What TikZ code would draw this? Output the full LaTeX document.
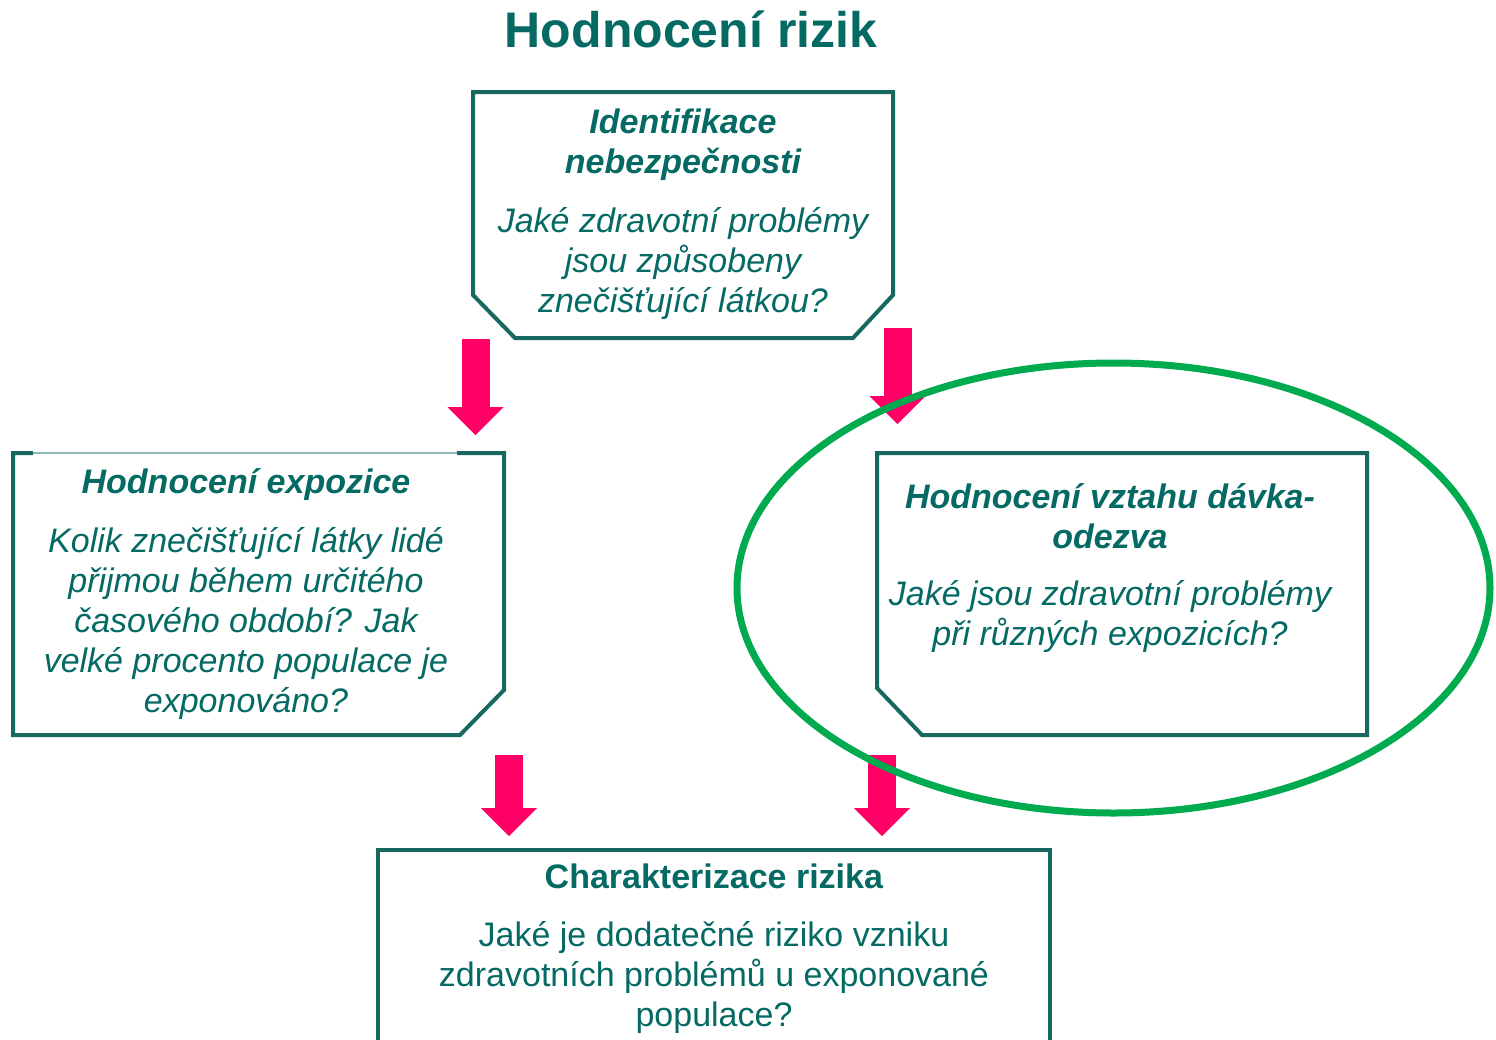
\documentclass[tikz,border=0pt]{standalone}
\usepackage{fontspec}
\setmainfont{Liberation Sans}
\usepackage{xcolor}
\usepackage{tikz}
\usetikzlibrary{arrows.meta,positioning,shapes.geometric}
\definecolor{RiskTeal}{HTML}{17695F}
\definecolor{RiskText}{HTML}{056A63}
\definecolor{RiskTealLight}{HTML}{8DB8B3}
\definecolor{RiskPink}{HTML}{FF0066}
\definecolor{RiskGreen}{HTML}{00AA4F}
\newcommand{\stagehead}[1]{\textbf{#1}}

\begin{document}
\begin{tikzpicture}[
  x=0.5pt, y=-0.5pt,
  stagebox/.style={rectangle, inner sep=0pt, outer sep=0pt},
  stageline/.style={draw=RiskTeal, line width=2pt, line join=miter},
  plainbox/.style={draw=RiskTeal, line width=2pt, rectangle, inner sep=0pt, outer sep=0pt},
  stagetext/.style={text=RiskText, align=center, anchor=north, inner sep=0pt, font=\fontsize{17}{20}\selectfont\itshape},
  bigarr/.style={draw=RiskPink, line width=14pt, -{Triangle[width=28pt, length=14pt, line width=0pt]}},
  ring/.style={draw=RiskGreen, line width=3.5pt, ellipse, inner sep=0pt}
]
  \path[fill=white, use as bounding box] (0,0) rectangle (1496,1040);

  \node[text=RiskText, font=\fontsize{25}{30}\selectfont\bfseries, anchor=base] (title) at (691,47) {Hodnocení rizik};

  % the four stages
  \node[stagebox, minimum width=210pt, minimum height=123pt] (hazard) at (683,215) {};
  \node[stagebox, minimum width=245.5pt, minimum height=141pt] (exposure) at (258.5,594) {};
  \node[stagebox, minimum width=245pt, minimum height=141pt] (doseresp) at (1122,594) {};
  \node[plainbox, minimum width=336pt, minimum height=105pt] (riskchar) at (714,955) {};

  % cut corners
  \draw[stageline] (hazard.north west) -- (hazard.north east) -- ([yshift=21.5pt]hazard.south east)
    -- ([xshift=-20pt]hazard.south east) -- ([xshift=21pt]hazard.south west)
    -- ([yshift=21.5pt]hazard.south west) -- cycle;
  \draw[stageline] (exposure.north west) -- (exposure.north east) -- ([yshift=22.5pt]exposure.south east)
    -- ([xshift=-22pt]exposure.south east) -- (exposure.south west) -- cycle;
  \draw[stageline] (doseresp.north west) -- (doseresp.north east) -- (doseresp.south east)
    -- ([xshift=22.5pt]doseresp.south west) -- ([yshift=23.5pt]doseresp.south west) -- cycle;
  \draw[white, line width=2.6pt] ([xshift=-113pt]exposure.north) -- ([xshift=99pt]exposure.north);
  \draw[RiskTealLight, line width=0.8pt] ([xshift=-113pt]exposure.north) -- ([xshift=99pt]exposure.north);

  \node[stagetext] (hazardtxt) at (683,108) {\stagehead{Identifikace}\\\stagehead{nebezpečnosti}\\[9.5pt]
    Jaké zdravotní problémy\\jsou způsobeny\\znečišťující látkou?};
  \node[stagetext] (exposuretxt) at (246,468) {\stagehead{Hodnocení expozice}\\[9.5pt]
    Kolik znečišťující látky lidé\\přijmou během určitého\\časového období? Jak\\velké procento populace je\\exponováno?};
  \node[stagetext] (dosetxt) at (1110,483) {\stagehead{Hodnocení vztahu dávka-}\\\stagehead{odezva}\\[8.5pt]
    Jaké jsou zdravotní problémy\\při různých expozicích?};
  \node[stagetext, font=\fontsize{17}{20}\selectfont\upshape] (risktxt) at (714,863) {\stagehead{Charakterizace rizika}\\[9pt]
    Jaké je dodatečné riziko vzniku\\zdravotních problémů u exponované\\populace?};

  % arrows
  \coordinate (a1s) at (475.5,339);
  \coordinate (a1e) at (475.5,435);
  \coordinate (a2s) at (897.5,328);
  \coordinate (a2e) at (897.5,424);
  \coordinate (a3s) at (509,755);
  \coordinate (a3e) at (509,836);
  \coordinate (a4s) at (882,755);
  \coordinate (a4e) at (882,836);
  \draw[bigarr] (a1s) -- (a1e);
  \draw[bigarr] (a2s) -- (a2e);
  \draw[bigarr] (a3s) -- (a3e);
  \draw[bigarr] (a4s) -- (a4e);

  \node[ring, minimum width=376.5pt, minimum height=225pt] (focus) at (1113.5,588) {};
\end{tikzpicture}
\end{document}
